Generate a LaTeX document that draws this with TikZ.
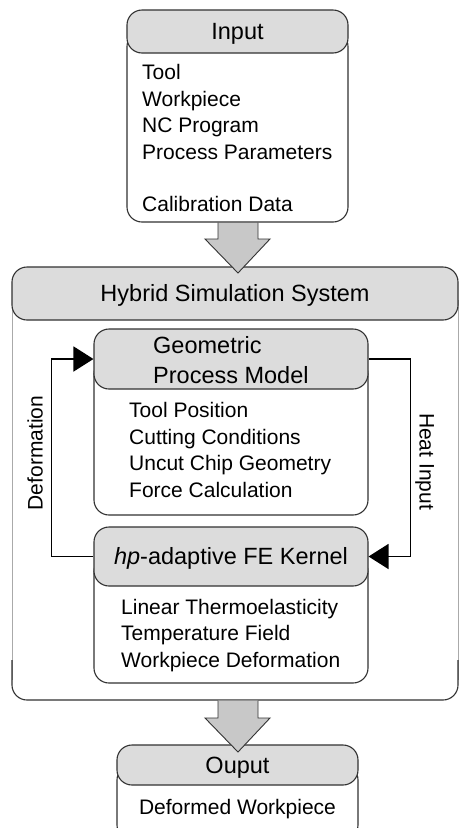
\documentclass[tikz,border=0pt]{standalone}
\usepackage{fontspec}
\setmainfont{Liberation Sans}
\usetikzlibrary{arrows.meta}
\definecolor{hdr}{RGB}{220,220,220}
\definecolor{arr}{RGB}{200,200,200}
\definecolor{ln}{RGB}{50,50,50}
\definecolor{lnlight}{RGB}{170,170,170}
\begin{document}
\begin{tikzpicture}[x=1pt,y=-1pt,
 hdrbox/.style={draw=ln, fill=hdr, line width=1.1pt, rounded corners=15pt, inner sep=0pt},
 bodybox/.style={draw=ln, fill=white, line width=1.1pt, rounded corners=15pt},
 htext/.style={font=\fontsize{23.5}{30}\selectfont, inner sep=0pt, text height=16.8pt, text depth=0pt},
 itext/.style={font=\fontsize{21}{26}\selectfont, inner sep=0pt, text height=15pt, text depth=0pt, anchor=west},
 loopline/.style={draw=black, line width=1.6pt, line join=miter, -{Triangle[length=20pt,width=25pt]}},
 bigarrow/.style={draw=ln, fill=arr, line width=0.9pt, line join=miter}]
\useasboundingbox (0,0) rectangle (459,828);
\fill[white] (0,0) rectangle (459,828);

% Hybrid simulation system (outer box)
\fill[white, rounded corners=15pt] (12,293) rectangle (458,700);
\draw[lnlight, line width=0.7pt] (12,300) -- (12,680);
\draw[lnlight, line width=0.7pt] (458,300) -- (458,680);
\draw[ln, line width=1.1pt, rounded corners=15pt] (12,660) -- (12,700) -- (458,700) -- (458,660);
\node[hdrbox, htext, minimum width=446pt, minimum height=53pt] (hyb) at (235,293.5) {Hybrid Simulation System};

% Arrow Input -> Hybrid
\draw[bigarrow] (218,222.6) -- (218,239) -- (205,239) -- (238,273) -- (270,239) -- (258,239) -- (258,222.6);

% Input box
\draw[bodybox] (127,31.5) rectangle (348,222);
\node[hdrbox, htext, minimum width=221pt, minimum height=43pt] (inH) at (237.5,31.5) {Input};
\node[itext] (in1) at (142,72) {Tool};
\node[itext] (in2) at (142,98.5) {Workpiece};
\node[itext] (in3) at (142,125) {NC Program};
\node[itext] (in4) at (142,151.5) {Process Parameters};
\node[itext] (in5) at (142,203.5) {Calibration Data};

% Geometric process model
\draw[bodybox] (94,359) rectangle (368,515);
\node[hdrbox, minimum width=274pt, minimum height=60pt] (geo) at (231,359) {};
\node[htext, anchor=west] (geo1) at (153,345) {Geometric};
\node[htext, anchor=west] (geo2) at (153,375) {Process Model};
\node[itext] (g1) at (129,410) {Tool Position};
\node[itext] (g2) at (129,436.5) {Cutting Conditions};
\node[itext] (g3) at (129,463) {Uncut Chip Geometry};
\node[itext] (g4) at (129,489.5) {Force Calculation};

% FE kernel
\draw[bodybox] (94,556.5) rectangle (368,683);
\node[hdrbox, htext, minimum width=274pt, minimum height=59pt] (fe) at (231,556.5) {\textit{hp}-adaptive FE Kernel};
\node[itext] (f1) at (121,606.5) {Linear Thermoelasticity};
\node[itext] (f2) at (121,633) {Temperature Field};
\node[itext] (f3) at (121,659.5) {Workpiece Deformation};

% Loop connectors
\draw[loopline] (fe.west) -- ++(-42,0) |- (geo.west);
\draw[loopline] (geo.east) -- ++(42,0) |- (fe.east);
\node[itext, anchor=center, rotate=90] (deflab) at (35,453) {Deformation};
\node[itext, anchor=center, rotate=-90] (heatlab) at (427,461.5) {Heat Input};

% Output box
\draw[bodybox] (117,765) rectangle (358,840);
\node[hdrbox, htext, minimum width=241pt, minimum height=40pt] (out) at (237.5,765) {Ouput};
\node[itext, anchor=center] (o1) at (237.5,807) {Deformed Workpiece};

% Arrow Hybrid -> Output
\draw[bigarrow] (218,700.6) -- (218,718) -- (205,718) -- (238,752) -- (270,718) -- (258,718) -- (258,700.6);
\end{tikzpicture}
\end{document}
